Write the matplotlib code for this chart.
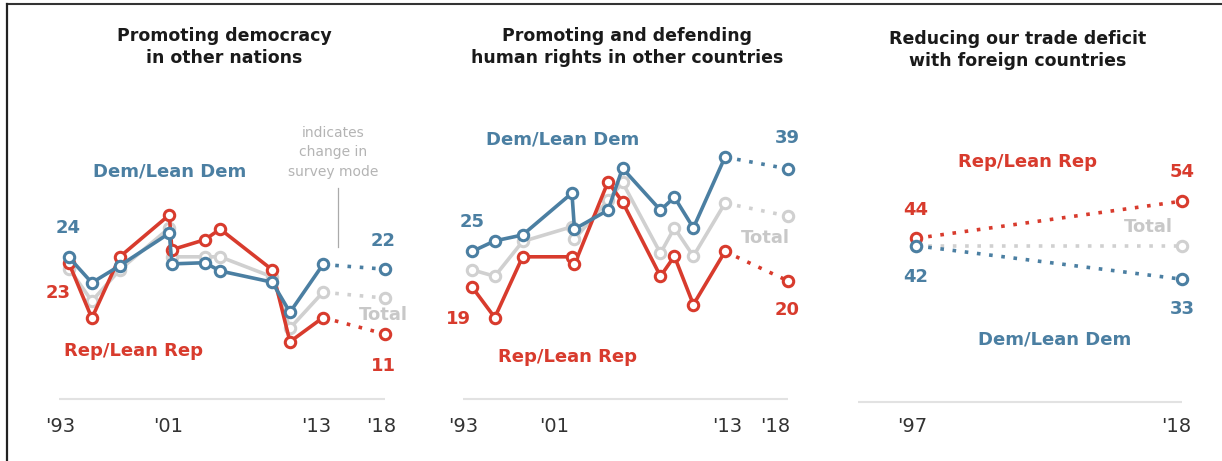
import matplotlib
matplotlib.use('Agg')
import matplotlib.pyplot as plt
from matplotlib.lines import Line2D

W, H = 1222, 461
DEM_COLOR = '#4B7FA2'
REP_COLOR = '#D83B2D'
TOTAL_COLOR = '#D0D0D0'
TOTAL_TEXT = '#C8C8C8'
NOTE_COLOR = '#B4B4B4'
TICK_COLOR = '#333333'

# Promoting democracy in other nations
democracy_years = [1993.0, 1994.8, 1997.0, 2000.9, 2001.1, 2003.7, 2004.9, 2009.0, 2010.4, 2013.0, 2017.9]
democracy_dem = [24, 19.7, 22.6, 28.1, 22.9, 23.1, 21.7, 19.8, 14.7, 22.8, 22]
democracy_rep = [23, 13.7, 24.1, 31.2, 25.3, 27.0, 28.8, 21.9, 9.7, 13.8, 11]
democracy_total = [22.1, 16.6, 21.9, 29.0, 24.1, 24.1, 24.1, 20.7, 12.0, 18.1, 17.1]

# Promoting and defending human rights in other countries
rights_years = [1993.0, 1994.8, 1997.0, 2000.9, 2001.1, 2003.75, 2004.9, 2007.9, 2009.0, 2010.5, 2013.0, 2018.0]
rights_dem = [25, 26.8, 27.8, 34.9, 28.8, 32.0, 39.1, 32.0, 34.2, 29.0, 41.0, 39]
rights_rep = [19, 13.8, 24.1, 24.1, 22.8, 36.8, 33.4, 20.8, 24.2, 16.0, 25.0, 20]
rights_total = [21.9, 20.8, 26.7, 29.2, 27.1, 33.7, 36.7, 24.7, 29.0, 24.2, 33.2, 31.0]

# Reducing our trade deficit with foreign countries
trade_years = [1997, 2018]
trade_dem = [42, 33]
trade_rep = [44, 54]
trade_total = [42, 42]

titles = ['Promoting democracy\nin other nations',
          'Promoting and defending\nhuman rights in other countries',
          'Reducing our trade deficit\nwith foreign countries']
tick_labels = [["'93", "'01", "'13", "'18"],
               ["'93", "'01", "'13", "'18"],
               ["'97", "'18"]]
tick_pos = [[1992.3, 2000.8, 2012.5, 2017.6],
            [1992.3, 1999.5, 2013.2, 2017.0],
            [1996.7, 2017.5]]
note_text = 'indicates\nchange in\nsurvey mode'

# layout in pixels: left, right, top, baseline, anchor year, anchor px, px per year, px per point
layouts = [
    dict(left=30, right=410, top=80, base=399, yr0=1993, x0=69, kx=12.7, ky=5.9,
         line=(59, 385), title=(224, 47)),
    dict(left=430, right=810, top=80, base=399, yr0=1993, x0=472, kx=12.65, ky=5.9,
         line=(463, 788), title=(627.5, 47)),
    dict(left=830, right=1215, top=80, base=402, yr0=1997, x0=916, kx=12.67, ky=3.72,
         line=(858, 1182), title=(1018, 50)),
]


def fxy(x, y):
    return x / W, 1 - y / H


def make_axes(fig, lay, ticks, labels, title):
    ax = fig.add_axes([lay['left'] / W, (H - lay['base']) / H,
                       (lay['right'] - lay['left']) / W, (lay['base'] - lay['top']) / H])
    to_year = lambda p: lay['yr0'] + (p - lay['x0']) / lay['kx']
    ax.set_xlim(to_year(lay['left']), to_year(lay['right']))
    ax.set_ylim(0, (lay['base'] - lay['top']) / lay['ky'])
    ax.set_frame_on(False)
    ax.set_yticks([])
    ax.set_xticks(ticks, labels)
    ax.tick_params(axis='x', length=0, pad=(417 - lay['base']) * 0.72,
                   labelsize=14, labelcolor=TICK_COLOR)
    ax.hlines(0, to_year(lay['line'][0]), to_year(lay['line'][1]),
              color='#E2E2E2', lw=1.5, zorder=1, clip_on=False)
    fig.text(*fxy(*lay['title']), title, ha='center', va='center',
             fontsize=12.5, fontweight='bold', color='#1a1a1a', linespacing=1.25)
    return ax


def draw_series(ax, years, values, color, z, solid=True):
    dots = (0, (1, 2.4))
    if solid:
        ax.plot(years[:-1], values[:-1], color=color, lw=2.6, zorder=z, clip_on=False,
                solid_joinstyle='round')
        ax.plot(years[-2:], values[-2:], color=color, lw=2.6, ls=dots, zorder=z, clip_on=False)
    else:
        ax.plot(years, values, color=color, lw=2.6, ls=dots, zorder=z, clip_on=False)
    ax.plot(years, values, ls='none', marker='o', ms=7.5, mew=2.2, mfc='white', mec=color,
            zorder=z + 0.5, clip_on=False)


def label(ax, years, values, i, color, dx, dy, text=None):
    ax.annotate(text if text else str(round(values[i])), xy=(years[i], values[i]),
                xytext=(dx, dy), textcoords='offset pixels', ha='center', va='center',
                fontsize=13, fontweight='bold', color=color, annotation_clip=False)


def group_label(x, y, text, color):
    fig.text(*fxy(x, y), text, ha='center', va='center', fontsize=13,
             fontweight='bold', color=color)


fig = plt.figure(figsize=(W / 100, H / 100), dpi=100)

# panel 1
ax1 = make_axes(fig, layouts[0], tick_pos[0], tick_labels[0], titles[0])
draw_series(ax1, democracy_years, democracy_total, TOTAL_COLOR, 2)
draw_series(ax1, democracy_years, democracy_rep, REP_COLOR, 3)
draw_series(ax1, democracy_years, democracy_dem, DEM_COLOR, 4)
label(ax1, democracy_years, democracy_dem, 0, DEM_COLOR, -1, 29)
label(ax1, democracy_years, democracy_rep, 0, REP_COLOR, -11, -30)
label(ax1, democracy_years, democracy_dem, -1, DEM_COLOR, -2, 28)
label(ax1, democracy_years, democracy_rep, -1, REP_COLOR, -2, -32)
label(ax1, democracy_years, democracy_total, -1, TOTAL_TEXT, -2, -17, 'Total')
group_label(170, 171, 'Dem/Lean Dem', DEM_COLOR)
group_label(133, 351, 'Rep/Lean Rep', REP_COLOR)
fig.text(*fxy(333, 152), note_text, ha='center', va='center', fontsize=10,
         color=NOTE_COLOR, linespacing=1.5)
fig.add_artist(Line2D([338 / W, 338 / W], [1 - 188 / H, 1 - 247 / H], color='#AAAAAA', lw=0.9))

# panel 2
ax2 = make_axes(fig, layouts[1], tick_pos[1], tick_labels[1], titles[1])
draw_series(ax2, rights_years, rights_total, TOTAL_COLOR, 2)
draw_series(ax2, rights_years, rights_rep, REP_COLOR, 3)
draw_series(ax2, rights_years, rights_dem, DEM_COLOR, 4)
label(ax2, rights_years, rights_dem, 0, DEM_COLOR, 0, 30)
label(ax2, rights_years, rights_rep, 0, REP_COLOR, -14, -32)
label(ax2, rights_years, rights_dem, -1, DEM_COLOR, -1, 31)
label(ax2, rights_years, rights_rep, -1, REP_COLOR, -1, -29)
label(ax2, rights_years, rights_total, -1, TOTAL_TEXT, -23, -22, 'Total')
group_label(563, 140, 'Dem/Lean Dem', DEM_COLOR)
group_label(567, 357, 'Rep/Lean Rep', REP_COLOR)

# panel 3
ax3 = make_axes(fig, layouts[2], tick_pos[2], tick_labels[2], titles[2])
draw_series(ax3, trade_years, trade_total, TOTAL_COLOR, 2, solid=False)
draw_series(ax3, trade_years, trade_rep, REP_COLOR, 3, solid=False)
draw_series(ax3, trade_years, trade_dem, DEM_COLOR, 4, solid=False)
label(ax3, trade_years, trade_rep, 0, REP_COLOR, 0, 28)
label(ax3, trade_years, trade_dem, 0, DEM_COLOR, 0, -31)
label(ax3, trade_years, trade_rep, -1, REP_COLOR, 0, 29)
label(ax3, trade_years, trade_dem, -1, DEM_COLOR, 0, -30)
label(ax3, trade_years, trade_total, -1, TOTAL_TEXT, -34, 19, 'Total')
group_label(1027, 162, 'Rep/Lean Rep', REP_COLOR)
group_label(1055, 339, 'Dem/Lean Dem', DEM_COLOR)

# frame lines at top and left
fig.add_artist(Line2D([7 / W, 1], [1 - 4.5 / H, 1 - 4.5 / H], color='#333333', lw=1.5))
fig.add_artist(Line2D([7.5 / W, 7.5 / W], [1 - 4.5 / H, 0], color='#222222', lw=1.6))

fig.savefig('out.png', dpi=100)
